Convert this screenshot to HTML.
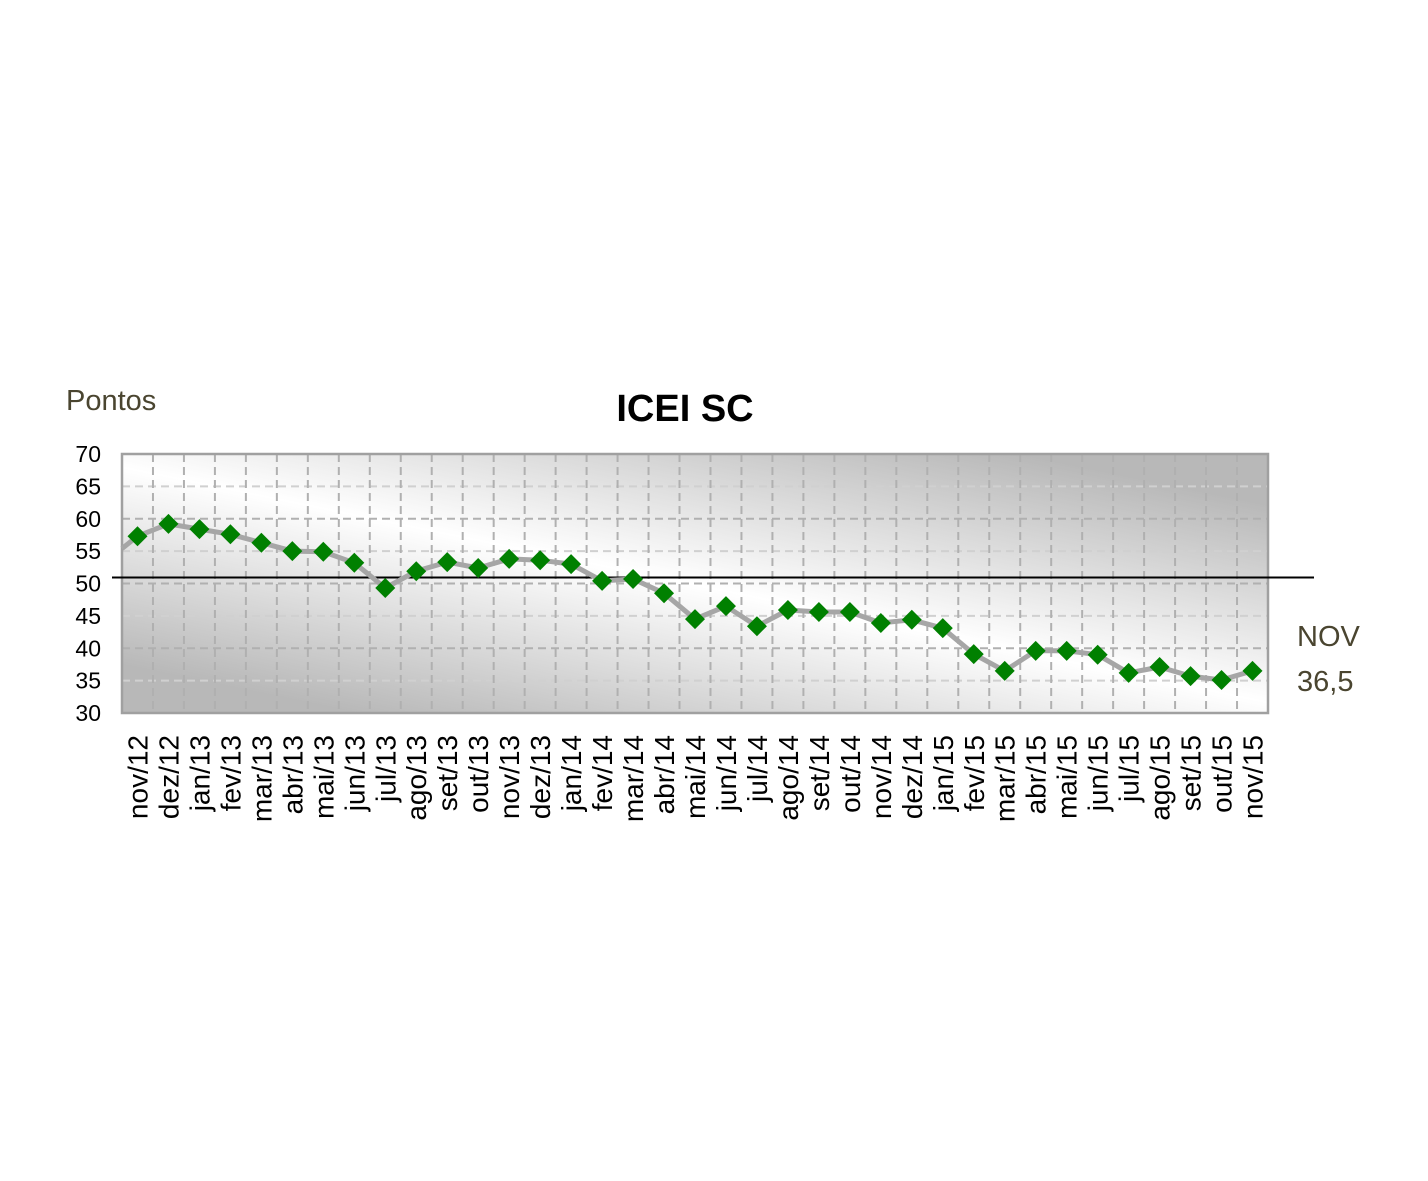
<!DOCTYPE html>
<html><head><meta charset="utf-8"><style>
body{margin:0;background:#fff}
svg{display:block}
</style></head><body>
<svg width="1428" height="1181" viewBox="0 0 1428 1181" xmlns="http://www.w3.org/2000/svg" font-family="Liberation Sans, sans-serif">
<defs>
<linearGradient id="bg" gradientUnits="userSpaceOnUse" x1="734" y1="395" x2="656" y2="775">
<stop offset="0" stop-color="#b8b8b8"/><stop offset="0.5" stop-color="#ffffff"/><stop offset="1" stop-color="#b8b8b8"/>
</linearGradient>
</defs>
<rect x="122" y="454" width="1146" height="259" fill="url(#bg)"/>
<g id="grid"></g>
<rect x="122" y="454" width="1146" height="259" fill="none" stroke="#a0a0a0" stroke-width="2.5"/>
<line x1="112" y1="577.5" x2="1314" y2="577.5" stroke="#000" stroke-width="2"/>
<g id="series"></g>
<g id="labels" font-size="23" fill="#000"></g>
<text x="66" y="410" font-family="Liberation Sans, DejaVu Sans, sans-serif" font-size="29" fill="#4a4530">Pontos</text>
<text x="685" y="421" text-anchor="middle" font-size="38" font-weight="bold" fill="#000">ICEI SC</text>
<text x="1297" y="646" font-size="29" fill="#4a4530">NOV</text>
<text x="1297" y="691" font-size="29" fill="#4a4530">36,5</text>
</svg>
<script>
var ns="http://www.w3.org/2000/svg";
function el(t,a,p){var e=document.createElementNS(ns,t);for(var k in a)e.setAttribute(k,a[k]);p.appendChild(e);return e;}
var N=37,L=122,R=1268,T=454,B=713,cw=(R-L)/N;
function Y(v){return B-(v-30)*(B-T)/40;}
var g=document.getElementById('grid');
for(var v=35;v<70;v+=5){el('line',{x1:L,x2:R,y1:Y(v),y2:Y(v),stroke:(v%10==0?'#b0b0b0':'#d0d0d0'),'stroke-width':2,'stroke-dasharray':'8,5'},g);}
for(var i=1;i<N;i++){var x=L+i*cw;el('line',{x1:x,x2:x,y1:T,y2:B,stroke:'#b0b0b0','stroke-width':2,'stroke-dasharray':'8,5'},g);}
var yl=document.getElementById('labels');
for(var v=30;v<=70;v+=5){var t=el('text',{x:101,y:Y(v)+8,'text-anchor':'end'},yl);t.textContent=v;}
var vals=[57.3,59.2,58.4,57.6,56.3,55.0,54.9,53.2,49.3,51.9,53.3,52.4,53.8,53.6,53.0,50.4,50.7,48.5,44.5,46.5,43.4,45.9,45.6,45.6,43.9,44.4,43.1,39.1,36.5,39.6,39.6,39.0,36.2,37.1,35.7,35.1,36.5];
var mon=['nov/12','dez/12','jan/13','fev/13','mar/13','abr/13','mai/13','jun/13','jul/13','ago/13','set/13','out/13','nov/13','dez/13','jan/14','fev/14','mar/14','abr/14','mai/14','jun/14','jul/14','ago/14','set/14','out/14','nov/14','dez/14','jan/15','fev/15','mar/15','abr/15','mai/15','jun/15','jul/15','ago/15','set/15','out/15','nov/15'];
var s=document.getElementById('series');
var d='M'+L+' '+Y(55.4);
for(var i=0;i<N;i++){d+=' L'+(L+(i+.5)*cw).toFixed(1)+' '+Y(vals[i]).toFixed(1);}
el('path',{d:d,fill:'none',stroke:'#a6a6a6','stroke-width':5,'stroke-linejoin':'round'},s);
for(var i=0;i<N;i++){var x=L+(i+.5)*cw,y=Y(vals[i]);
el('path',{d:'M'+x+' '+(y-10)+' L'+(x+10)+' '+y+' L'+x+' '+(y+10)+' L'+(x-10)+' '+y+'Z',fill:'#008000'},s);}
for(var i=0;i<N;i++){var x=L+(i+.5)*cw+10;
var t=el('text',{x:0,y:0,'text-anchor':'end',transform:'translate('+x+',735) rotate(-90)','font-size':28},yl);t.textContent=mon[i];}
</script>
</body></html>
